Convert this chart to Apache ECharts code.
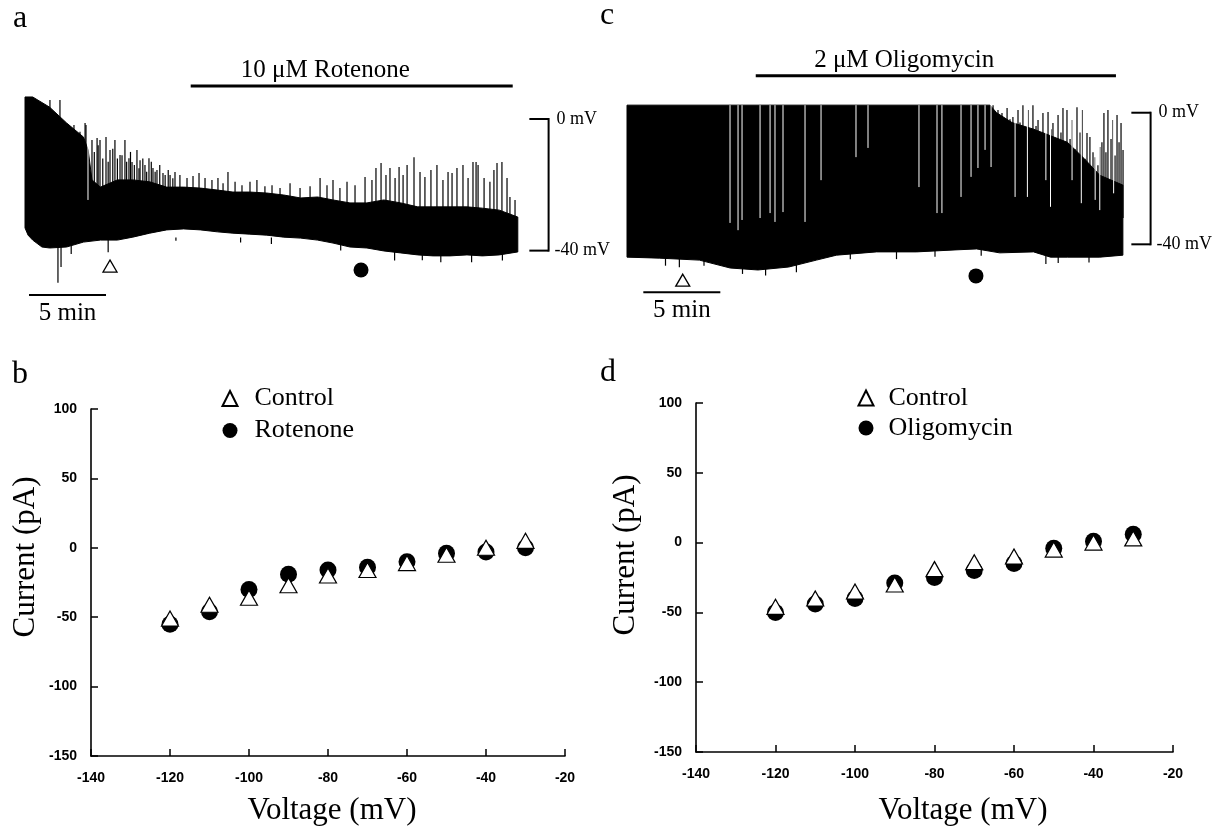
<!DOCTYPE html>
<html>
<head>
<meta charset="utf-8">
<script src="https://cdn.jsdelivr.net/npm/echarts@6/dist/echarts.min.js"></script>
<style>
html,body{margin:0;padding:0;background:#fff;}
#chart{width:1219px;height:829px;}
</style>
</head>
<body>
<div id="chart"></div>
<script>
// ---------- I-V data (panels b, d) ----------
const voltage = [-120, -110, -100, -90, -80, -70, -60, -50, -40, -30];
const controlB = [-51, -41, -36, -27, -20, -16, -11, -5, 0, 5];
const rotenone = [-55, -46, -30, -19, -16, -14, -10, -4, -3, 0];
const controlD = [-46, -40, -35, -30, -19, -14, -10, -5, 0, 3];
const oligomycin = [-50, -44, -40, -29, -25, -20, -15, -4, 1, 6];

// ---------- membrane potential traces (panels a, c): [time (min), mV] ----------
const traceAUpper = [[0,6.7],[0.5,6.7],[1.6,3.6],[2.7,-1.2],[3.8,-5.5],[4.1,-9.4],[4.35,-18.5],[4.9,-20.7],[6.0,-18.5],[7.0,-18.5],[8.1,-19.1],[9.2,-20.7],[10.3,-20.7],[11.4,-21.0],[12.5,-21.6],[13.5,-22.2],[14.6,-22.2],[15.7,-22.5],[16.8,-23.1],[17.9,-24.0],[19.0,-23.7],[20.0,-24.6],[21.1,-25.5],[22.2,-25.5],[23.3,-24.6],[24.4,-25.5],[25.5,-26.7],[26.5,-26.7],[27.6,-26.7],[28.7,-26.7],[29.7,-27.1],[30.8,-27.7],[32.0,-29.8]];
const traceALower = [[0,-33.1],[0.2,-35.3],[0.5,-36.8],[1.1,-38.9],[1.6,-39.2],[2.7,-38.9],[3.8,-37.4],[4.9,-36.8],[6.0,-36.8],[7.0,-35.9],[8.1,-34.7],[9.2,-33.7],[10.3,-33.4],[11.4,-33.7],[12.5,-34.3],[13.5,-34.7],[14.6,-35.0],[15.7,-35.3],[16.8,-35.9],[17.9,-36.2],[19.0,-36.8],[20.0,-37.7],[21.1,-38.9],[22.2,-39.2],[23.3,-40.1],[24.4,-40.7],[25.5,-41.3],[26.5,-41.6],[27.6,-41.6],[28.7,-41.3],[29.7,-41.6],[30.8,-41.3],[32.0,-40.4]];
const traceASpikes = [[1.62,5.8],[2.27,5.8],[3.18,-1.8],[3.57,-3.9],[3.9,-1.2],[3.96,-1.8],[4.35,-6.4],[4.5,-10],[4.68,-5.8],[4.75,-8],[4.87,-6.4],[5.05,-12],[5.26,-5.5],[5.4,-13],[5.52,-9.4],[5.7,-9],[5.84,-6.4],[6.0,-12],[6.17,-10.9],[6.3,-11],[6.49,-6.4],[6.6,-13],[6.75,-11.9],[6.85,-10],[6.95,-13.1],[7.1,-14],[7.27,-9.4],[7.4,-15],[7.47,-12.5],[7.65,-12],[7.79,-14.0],[7.9,-16],[8.05,-11.9],[8.2,-13],[8.31,-14.9],[8.45,-16],[8.57,-15.5],[8.75,-14],[8.96,-16.4],[9.1,-17],[9.3,-15.5],[9.42,-17.0],[9.6,-18],[9.74,-16.1],[10.06,-17.0],[10.52,-17.9],[10.91,-17.3],[11.30,-16.4],[11.69,-17.9],[12.14,-18.5],[12.53,-17.9],[12.86,-19.5],[13.18,-16.1],[13.64,-19.1],[14.09,-20.1],[14.61,-19.1],[15.06,-18.5],[15.58,-20.4],[16.04,-20.1],[16.56,-21.0],[17.21,-19.5],[17.86,-21.0],[18.51,-20.4],[19.16,-17.9],[19.61,-20.1],[20.0,-18.5],[20.45,-21.0],[20.91,-19.1],[21.43,-20.1],[22.08,-17.6],[22.53,-18.5],[22.79,-14.9],[23.12,-13.4],[23.44,-17.0],[23.70,-14.9],[24.03,-17.9],[24.29,-14.6],[24.55,-17.0],[24.81,-14.0],[25.26,-11.6],[25.65,-16.1],[25.97,-17.6],[26.36,-15.5],[26.75,-14.0],[27.14,-18.5],[27.47,-16.1],[27.73,-16.4],[28.05,-14.9],[28.44,-14.0],[28.77,-17.9],[29.09,-13.1],[29.29,-13.1],[29.42,-14.0],[29.81,-17.9],[30.19,-19.1],[30.45,-15.5],[30.65,-13.4],[30.97,-13.1],[31.30,-17.9],[31.49,-23.7],[31.82,-24.6]];
const traceADips = [[2.14,-49.8],[2.34,-45.0],[3.0,-41.0],[5.4,-40.5],[9.8,-37.0],[14.0,-37.5],[16.0,-38.0],[20.5,-40.0],[24.0,-43.0],[25.8,-42.9],[27.0,-43.5],[29.0,-43.5],[31.0,-43.0]];
const traceAGaps = [[4.09,-5.5,-24.6]];

const traceCUpper = [[0,2.3],[23.57,2.3],[24.0,0],[25.0,-3],[26.4,-5],[27.5,-7],[28.6,-9],[29.7,-14],[30.7,-19],[32.2,-22]];
const traceCLower = [[0,-43.9],[2.1,-44.2],[4.7,-44.8],[6.7,-47.2],[8.5,-47.8],[10.5,-46.9],[12.3,-44.8],[13.6,-43.3],[16.2,-42.3],[18.8,-42.3],[21.3,-41.7],[22.7,-41.4],[24.2,-42.6],[26.4,-42.3],[27.5,-43.9],[28.6,-43.9],[30.7,-43.9],[32.2,-43.3]];
const traceCSpikes = [[23.77,2.3],[24.09,0.8],[24.22,-6],[24.35,-0.1],[24.55,-4],[24.68,1.4],[24.87,-2],[25.06,-1.3],[25.19,-8],[25.39,0.8],[25.52,-3],[25.71,2.3],[25.91,-5],[26.04,0.8],[26.23,-9],[26.36,2.3],[26.56,-4],[26.69,-2.2],[26.88,-7],[27.01,-0.1],[27.21,-10],[27.34,0.2],[27.53,-5],[27.66,-3.1],[27.86,-12],[27.99,-0.7],[28.18,-6],[28.31,1.4],[28.44,-9],[28.57,0.8],[28.77,-8],[28.90,-2.2],[29.09,-11],[29.22,1.7],[29.42,-6],[29.55,0.8],[29.74,-14],[29.87,-6.2],[30.06,-7.4],[30.26,-12],[30.39,-13.5],[30.58,-16],[30.71,-10.4],[30.84,-9],[30.97,-0.1],[31.10,-12],[31.23,0.8],[31.43,-8],[31.56,-2.2],[31.69,-13],[31.82,-0.7],[31.95,-9],[32.08,-3.1],[32.21,-11.3]];
const traceCDips = [[2.5,-46.5],[3.4,-47.0],[5.0,-46.5],[7.5,-49.0],[9.0,-49.5],[11.0,-48.5],[14.5,-44.5],[17.5,-44.5],[20.0,-43.8],[23.0,-43.5],[27.2,-46.0],[28.0,-45.7],[30.0,-45.5]];
const traceCGaps = [[6.69,2.3,-33.5],[7.21,2.3,-35.7],[7.47,2.3,-32.6],[8.64,2.3,-32.0],[9.29,2.3,-30.5],[9.61,2.3,-33.2],[10.13,2.3,-30.2],[11.56,2.3,-33.2],[12.60,2.3,-20.5],[14.87,2.3,-13.5],[15.65,2.3,-10.7],[18.96,2.3,-22.6],[20.13,2.3,-30.5],[20.45,2.3,-30.5],[21.69,2.3,-25.6],[22.34,2.3,-19.5],[22.79,2.3,-16.8],[23.25,2.3,-11.3],[23.64,2.3,-16.5],
  [25.2,2.3,-25.6],[26.0,2.3,-25.6],[27.2,2.3,-20.5],[27.5,2.3,-28.6],[28.9,2.3,-20.5],[29.5,2.3,-27.5],[30.4,2.3,-26.5],[30.7,2.3,-29.6],[31.6,2.3,-24.5]];

// annotations of the traces
const drugBarA = [10.76, 31.67];          // min, application of rotenone
const drugBarC = [8.36, 31.75];           // min, application of oligomycin
const controlMarkA = [[5.52, -44.7]];
const drugMarkA = [[21.82, -45.9]];
const controlMarkC = [[3.62, -50.9]];
const drugMarkC = [[22.66, -49.6]];
const scaleBarMv = [0, -40];
const scaleBarLabels = ['0 mV', '-40 mV'];
const timeBarA = [0.26, 5.26];
const timeBarC = [1.06, 6.06];

const SERIF = '"Liberation Serif", "Times New Roman", serif';
const SANS = '"Liberation Sans", Arial, sans-serif';

function zip(xs, ys) { return xs.map((x, i) => [x, ys[i]]); }

function bandRender(upper, lower) {
  return function (params, api) {
    const pts = upper.map(p => api.coord(p)).concat(lower.slice().reverse().map(p => api.coord(p)));
    return { type: 'polygon', shape: { points: pts }, style: { fill: '#000', stroke: '#000', lineWidth: 1 } };
  };
}
function vlineRender(color, width) {
  return function (params, api) {
    const t = api.value(0);
    const p1 = api.coord([t, api.value(1)]);
    const p2 = api.coord([t, api.value(2)]);
    return { type: 'line', shape: { x1: p1[0], y1: p1[1], x2: p2[0], y2: p2[1] }, style: { stroke: color, lineWidth: width } };
  };
}
function scaleBarRender(params, api) {
  const t = api.value(0), tickLen = 1.25;
  const top = api.coord([t, api.value(1)]);
  const bot = api.coord([t, api.value(2)]);
  const topL = api.coord([t - tickLen, api.value(1)]);
  const botL = api.coord([t - tickLen, api.value(2)]);
  const st = { stroke: '#000', lineWidth: 2 };
  const ts = (txt) => ({ text: txt, font: '18px ' + SERIF, fill: '#000', align: 'left', verticalAlign: 'middle' });
  return { type: 'group', children: [
    { type: 'line', shape: { x1: top[0], y1: top[1] - 1, x2: bot[0], y2: bot[1] + 1 }, style: st },
    { type: 'line', shape: { x1: topL[0], y1: topL[1], x2: top[0], y2: top[1] }, style: st },
    { type: 'line', shape: { x1: botL[0], y1: botL[1], x2: bot[0], y2: bot[1] }, style: st },
    { type: 'text', x: top[0] + 8, y: top[1], style: ts(scaleBarLabels[0]) },
    { type: 'text', x: bot[0] + 6, y: bot[1], style: ts(scaleBarLabels[1]) }
  ] };
}
function barRender(label, width, fontSize, textT, textY) {
  return function (params, api) {
    const p1 = api.coord([api.value(0), api.value(2)]);
    const p2 = api.coord([api.value(1), api.value(2)]);
    const pt = api.coord([textT, textY]);
    return { type: 'group', children: [
      { type: 'line', shape: { x1: p1[0], y1: p1[1], x2: p2[0], y2: p2[1] }, style: { stroke: '#000', lineWidth: width } },
      { type: 'text', x: pt[0], y: pt[1], style: { text: label, font: fontSize + 'px ' + SERIF, fill: '#000', align: 'center', verticalAlign: 'middle' } }
    ] };
  };
}

function traceSeries(idx, upper, lower, spikes, dips, gaps, drugBar, drugLabel, drugY, drugTextT, drugTextY,
                     timeBar, timeY, timeTextY, ctrlMark, drugMark) {
  const base = { xAxisIndex: idx, yAxisIndex: idx, silent: true, animation: false };
  return [
    Object.assign({ type: 'custom', data: [[0, 0]], renderItem: bandRender(upper, lower), clip: false, z: 1 }, base),
    Object.assign({ type: 'custom', data: spikes.map(s => [s[0], s[1], -32]), renderItem: vlineRender('#000', 1.2), clip: false, z: 2 }, base),
    Object.assign({ type: 'custom', data: dips.map(s => [s[0], s[1], -36]), renderItem: vlineRender('#000', 1.2), clip: false, z: 2 }, base),
    Object.assign({ type: 'custom', data: gaps, renderItem: vlineRender('#fff', 1), clip: false, z: 3 }, base),
    Object.assign({ type: 'custom', data: [[34, scaleBarMv[0], scaleBarMv[1]]], renderItem: scaleBarRender, clip: false, z: 4 }, base),
    Object.assign({ type: 'custom', data: [[drugBar[0], drugBar[1], drugY]], renderItem: barRender(drugLabel, 3, 25, drugTextT, drugTextY), clip: false, z: 4 }, base),
    Object.assign({ type: 'custom', data: [[timeBar[0], timeBar[1], timeY]], renderItem: barRender('5 min', 2, 25, (timeBar[0] + timeBar[1]) / 2, timeTextY), clip: false, z: 4 }, base),
    Object.assign({ type: 'scatter', data: ctrlMark, symbol: 'triangle', symbolSize: [14, 12], itemStyle: { color: '#fff', borderColor: '#000', borderWidth: 1.3, opacity: 1 }, z: 5 }, base),
    Object.assign({ type: 'scatter', data: drugMark, symbol: 'circle', symbolSize: 15, itemStyle: { color: '#000', opacity: 1 }, z: 5 }, base)
  ];
}

const ivAxisX = (gi) => ({
  gridIndex: gi, type: 'value', min: -140, max: -20, interval: 20,
  axisLine: { show: true, onZero: false, lineStyle: { color: '#000', width: 1.6 } },
  axisTick: { show: true, inside: true, length: 7, lineStyle: { color: '#000', width: 1.5 } },
  axisLabel: { color: '#000', fontFamily: SANS, fontSize: 14, fontWeight: 'bold', margin: 15 },
  splitLine: { show: false }
});
const ivAxisY = (gi) => ({
  gridIndex: gi, type: 'value', min: -150, max: 100, interval: 50,
  axisLine: { show: true, onZero: false, lineStyle: { color: '#000', width: 1.6 } },
  axisTick: { show: true, inside: true, length: 7, lineStyle: { color: '#000', width: 1.5 } },
  axisLabel: { color: '#000', fontFamily: SANS, fontSize: 14, fontWeight: 'bold', margin: 14 },
  splitLine: { show: false }
});
const traceX = (gi) => ({ gridIndex: gi, type: 'value', min: 0, max: 36, show: false });
const traceY = (gi) => ({ gridIndex: gi, type: 'value', min: -62, max: 18, show: false });

const triStyle = { color: '#fff', borderColor: '#000', borderWidth: 1.2, opacity: 1 };
const dotStyle = { color: '#000', opacity: 1 };

const option = {
  animation: false,
  backgroundColor: '#fff',
  grid: [
    { left: 25, top: 59.8, width: 554.4, height: 263.2 },
    { left: 627, top: 53.5, width: 554.4, height: 263.2 },
    { left: 91, top: 409, width: 474, height: 347 },
    { left: 696, top: 403, width: 477, height: 349 }
  ],
  xAxis: [traceX(0), traceX(1), ivAxisX(2), ivAxisX(3)],
  yAxis: [traceY(0), traceY(1), ivAxisY(2), ivAxisY(3)],
  legend: [
    { data: ['Control', 'Rotenone'], orient: 'vertical', left: 216.5, top: 380.5, itemWidth: 15, itemHeight: 15, itemGap: 6,
      selectedMode: false, textStyle: { fontFamily: SERIF, fontSize: 26, color: '#000', padding: [0, 0, 0, 12] } },
    { data: ['Control', 'Oligomycin'], orient: 'vertical', left: 852.5, top: 380, itemWidth: 15, itemHeight: 15, itemGap: 4,
      selectedMode: false, textStyle: { fontFamily: SERIF, fontSize: 26, color: '#000', padding: [0, 0, 0, 10] } }
  ],
  graphic: [
    { type: 'text', left: 13, top: 3, style: { text: 'a', font: '32px ' + SERIF, fill: '#000' } },
    { type: 'text', left: 600, top: 0, style: { text: 'c', font: '32px ' + SERIF, fill: '#000' } },
    { type: 'text', left: 12, top: 359, style: { text: 'b', font: '32px ' + SERIF, fill: '#000' } },
    { type: 'text', left: 600, top: 357, style: { text: 'd', font: '32px ' + SERIF, fill: '#000' } },
    { type: 'text', x: 26, y: 557, rotation: Math.PI / 2, style: { text: 'Current (pA)', font: '31px ' + SERIF, fill: '#000', align: 'center', verticalAlign: 'middle' } },
    { type: 'text', x: 626, y: 555, rotation: Math.PI / 2, style: { text: 'Current (pA)', font: '31px ' + SERIF, fill: '#000', align: 'center', verticalAlign: 'middle' } },
    { type: 'text', x: 332, y: 811, style: { text: 'Voltage (mV)', font: '31px ' + SERIF, fill: '#000', align: 'center', verticalAlign: 'middle' } },
    { type: 'text', x: 963, y: 811, style: { text: 'Voltage (mV)', font: '31px ' + SERIF, fill: '#000', align: 'center', verticalAlign: 'middle' } }
  ],
  series: [].concat(
    traceSeries(0, traceAUpper, traceALower, traceASpikes, traceADips, traceAGaps, drugBarA, '10 \u03bcM Rotenone', 10.0, 19.5, 14.9,
                timeBarA, -53.5, -59.1, controlMarkA, drugMarkA),
    traceSeries(1, traceCUpper, traceCLower, traceCSpikes, traceCDips, traceCGaps, drugBarC, '2 \u03bcM Oligomycin', 11.2, 18.0, 16.0,
                timeBarC, -54.6, -60.1, controlMarkC, drugMarkC),
    [
      { name: 'Rotenone', type: 'scatter', xAxisIndex: 2, yAxisIndex: 2, data: zip(voltage, rotenone), symbol: 'circle', symbolSize: 17, itemStyle: dotStyle, z: 2 },
      { name: 'Control', type: 'scatter', xAxisIndex: 2, yAxisIndex: 2, data: zip(voltage, controlB), symbol: 'triangle', symbolSize: [17, 15], itemStyle: triStyle, z: 3 },
      { name: 'Oligomycin', type: 'scatter', xAxisIndex: 3, yAxisIndex: 3, data: zip(voltage, oligomycin), symbol: 'circle', symbolSize: 17, itemStyle: dotStyle, z: 2 },
      { name: 'Control', type: 'scatter', xAxisIndex: 3, yAxisIndex: 3, data: zip(voltage, controlD), symbol: 'triangle', symbolSize: [17, 15], itemStyle: triStyle, z: 3 }
    ]
  )
};

const chart = echarts.init(document.getElementById('chart'), null, { renderer: 'canvas' });
chart.setOption(option);
</script>
</body>
</html>
